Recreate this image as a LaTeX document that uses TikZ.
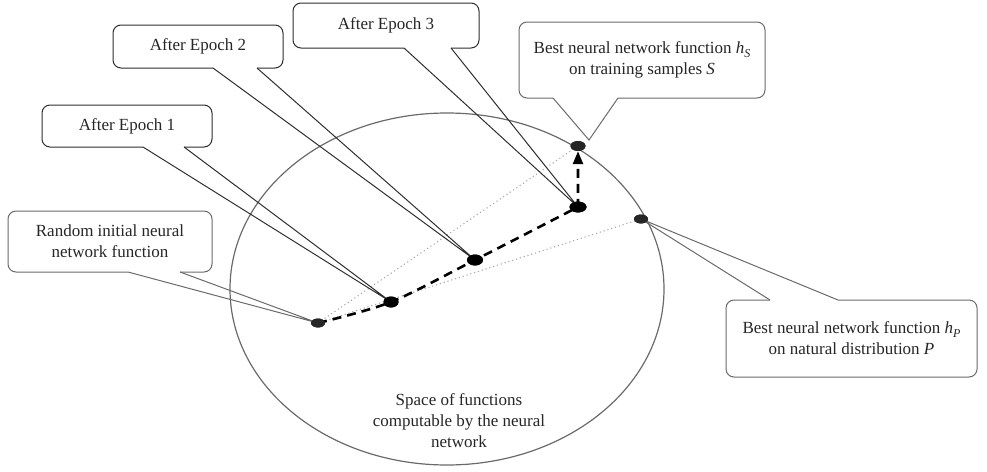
\documentclass[tikz,border=0pt]{standalone}
\usepackage{fontspec}
\setmainfont{Liberation Serif}
\usetikzlibrary{shapes.geometric,arrows.meta,calc}
\definecolor{boxdark}{HTML}{2E2E2E}
\definecolor{boxgray}{HTML}{6A6A6A}
\definecolor{txt}{HTML}{262626}
\newcommand{\hsub}[1]{\textit{h}\raisebox{-0.5ex}{\fontsize{12}{12}\selectfont\textit{#1}}}
\begin{document}
\begin{tikzpicture}[x=1pt,y=-1pt,
  every node/.style={font=\fontsize{17}{21}\selectfont, text=txt},
  callbox/.style={draw=#1, line width=1pt, rounded corners=8pt, fill=white, align=center, inner sep=0pt},
  ptr/.style={draw=#1, line width=1pt},
  dotnode/.style={ellipse, fill=#1, inner sep=0pt},
  guide/.style={draw=gray!70, line width=1.1pt, dash pattern=on 1.1pt off 2.9pt},
  pathline/.style={draw=black, line width=2.6pt, dash pattern=on 9pt off 6pt}]
\useasboundingbox (0,0) rectangle (987,471);

% ellipse (space of functions)
\draw[boxgray, line width=1.2pt] (447,289) ellipse [x radius=217, y radius=176];
\node[align=center] (space) at (459,421) {Space of functions\\computable by the neural\\network};

% dots
\node[dotnode=black!85, minimum width=14, minimum height=9] (init) at (318,323) {};
\node[dotnode=black, minimum width=15, minimum height=11] (e1) at (391,302) {};
\node[dotnode=black, minimum width=16, minimum height=11] (e2) at (475,260) {};
\node[dotnode=black, minimum width=17, minimum height=11] (e3) at (578,207) {};
\node[dotnode=black!85, minimum width=15, minimum height=10] (hS) at (578,146) {};
\node[dotnode=black!85, minimum width=14, minimum height=9] (hP) at (641,219) {};
\coordinate (hStip) at (589,140);

% dotted guides
\draw[guide] (init.center) -- (hS.center);
\draw[guide] (init.center) -- (hP.center);

% callout boxes
\node[callbox=boxdark, minimum width=170, minimum height=42] (c1) at (127,126) {After Epoch 1};
\node[callbox=boxdark, minimum width=170, minimum height=43] (c2) at (198,46.5) {After Epoch 2};
\node[callbox=boxdark, minimum width=186, minimum height=45] (c3) at (386,25.5) {After Epoch 3};
\node[callbox=boxgray, minimum width=246, minimum height=76] (cS) at (642,60) {Best neural network function \hsub{S}\\on training samples \textit{S}};
\node[callbox=boxgray, minimum width=204, minimum height=61] (cR) at (110,241.5) {Random initial neural\\network function};
\node[callbox=boxgray, minimum width=251, minimum height=77] (cP) at (851.5,338.5) {Best neural network function \hsub{P}\\on natural distribution \textit{P}};

% pointer bases
\coordinate (c1a) at (143,147); \coordinate (c1b) at (184,147);
\coordinate (c2a) at (213,68);  \coordinate (c2b) at (257,68);
\coordinate (c3a) at (404,48);  \coordinate (c3b) at (451,48);
\coordinate (cSa) at (553,98);  \coordinate (cSb) at (618,98);
\coordinate (cRa) at (128,272); \coordinate (cRb) at (180,272);
\coordinate (cPa) at (770,300); \coordinate (cPb) at (838,300);

% gaps in the borders
\foreach \a/\b in {c1a/c1b,c2a/c2b,c3a/c3b,cSa/cSb,cRa/cRb,cPa/cPb}
  \draw[white, line width=2pt] (\a) -- (\b);

% pointers
\draw[ptr=boxdark] (c1a) -- (e1.center) -- (c1b);
\draw[ptr=boxdark] (c2a) -- (e2.center) -- (c2b);
\draw[ptr=boxdark] (c3a) -- (e3.center) -- (c3b);
\draw[ptr=boxgray] (cSa) -- (hStip) -- (cSb);
\draw[ptr=boxgray] (cRa) -- (init.center) -- (cRb);
\draw[ptr=boxgray] (cPa) -- (hP.center) -- (cPb);

% training path
\draw[pathline, -{Triangle[length=13pt,width=10pt]}] plot[smooth, tension=0.5] coordinates {(init.center) (e1.center) (e2.center) (e3.center)} -- (hS.south);

% redraw dots on top
\fill[black!85] (init) ellipse [x radius=7, y radius=4.5];
\fill[black] (e1) ellipse [x radius=7.5, y radius=5.5];
\fill[black] (e2) ellipse [x radius=8, y radius=5.5];
\fill[black] (e3) ellipse [x radius=8.5, y radius=5.5];
\fill[black!85] (hS) ellipse [x radius=7.5, y radius=5];
\fill[black!85] (hP) ellipse [x radius=7, y radius=4.5];
\end{tikzpicture}
\end{document}
